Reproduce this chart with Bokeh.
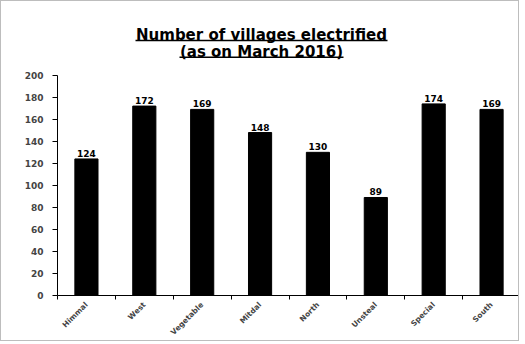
from bokeh.plotting import figure
from bokeh.models import Range1d, FixedTicker, ColumnDataSource
from bokeh.core.properties import value
from bokeh.embed import file_html
from bokeh.resources import INLINE
import math

title_lines = ["Number of villages electrified", "(as on March 2016)"]
categories = ["Himmal", "West", "Vegetable", "Mitdal", "North", "Unsteal", "Special", "South"]
villages = [124, 172, 169, 148, 130, 89, 174, 169]
y_ticks = [0, 20, 40, 60, 80, 100, 120, 140, 160, 180, 200]

FONT = "DejaVu Sans"
W, H = 519, 341
FL, FB, FT = 56, 46, 4          # frame borders (px)
AXIS_TOP_PAGE = 74               # page y where value 200 sits
y_max = y_ticks[-1]

frame_h = H - FB - FT
px_per_unit_y = (H - FB - AXIS_TOP_PAGE) / y_max
y_end = frame_h / px_per_unit_y
frame_w = W - FL
px_per_unit_x = frame_w / len(categories)

xs = [i + 0.5 for i in range(len(categories))]
src = ColumnDataSource(dict(x=xs, top=villages, lab=[str(v) for v in villages]))

p = figure(width=W, height=H, output_backend="svg", toolbar_location=None,
           x_range=Range1d(0, len(categories)), y_range=Range1d(0, y_end),
           min_border_left=FL, min_border_right=0, min_border_top=FT, min_border_bottom=FB)
p.styles = {"border": "1px solid #bdbdbd"}
p.outline_line_color = None
p.xgrid.grid_line_color = None
p.ygrid.grid_line_color = None

p.vbar(x="x", top="top", width=0.4, bottom=0, source=src, fill_color="black", line_color="black")
p.text(x="x", y="top", text="lab", source=src, text_align="center", text_baseline="bottom",
       y_offset=-2, text_font=value(FONT), text_font_style="bold", text_font_size="9px", text_color="black")

# y axis
p.yaxis.ticker = FixedTicker(ticks=y_ticks)
p.yaxis.bounds = (0, y_max)
p.yaxis.major_label_text_font = FONT
p.yaxis.major_label_text_font_style = "bold"
p.yaxis.major_label_text_font_size = "9px"
p.yaxis.major_tick_out = 5
p.yaxis.major_tick_in = 0
p.yaxis.minor_tick_line_color = None
p.yaxis.axis_line_color = "black"
p.yaxis.major_tick_line_color = "black"
p.yaxis.major_label_standoff = 9

# x axis
p.xaxis.ticker = FixedTicker(ticks=xs, minor_ticks=list(range(len(categories) + 1)))
p.xaxis.major_label_overrides = {x: c for x, c in zip(xs, categories)}
p.xaxis.major_tick_line_color = None
p.xaxis.major_tick_out = 0
p.xaxis.major_tick_in = 0
p.xaxis.minor_tick_out = 4
p.xaxis.minor_tick_in = 0
p.xaxis.minor_tick_line_color = "black"
p.xaxis.axis_line_color = "black"
p.xaxis.major_label_orientation = math.pi / 4
p.xaxis.major_label_text_font = FONT
p.xaxis.major_label_text_font_style = "bold"
p.xaxis.major_label_text_font_size = "7.5px"
p.xaxis.major_label_standoff = 4

# title (two lines, underlined), drawn inside the extended frame above the axis
def ydata(page_y):
    return (H - FB - page_y) / px_per_unit_y

cx = (260 - FL) / px_per_unit_x
for t, base, under, uw in [(title_lines[0], 34, 39, 252), (title_lines[1], 51, 56, 164)]:
    p.text(x=[cx], y=[ydata(base)], text=[t], text_align="center", text_baseline="alphabetic",
           text_font=value(FONT), text_font_style="bold", text_font_size="15px", text_color="black")
    half = uw / 2 / px_per_unit_x
    p.segment(x0=[cx - half], x1=[cx + half], y0=[ydata(under)], y1=[ydata(under)],
              line_color="black", line_width=1.5)

open("out.html", "w").write(file_html(p, INLINE))
